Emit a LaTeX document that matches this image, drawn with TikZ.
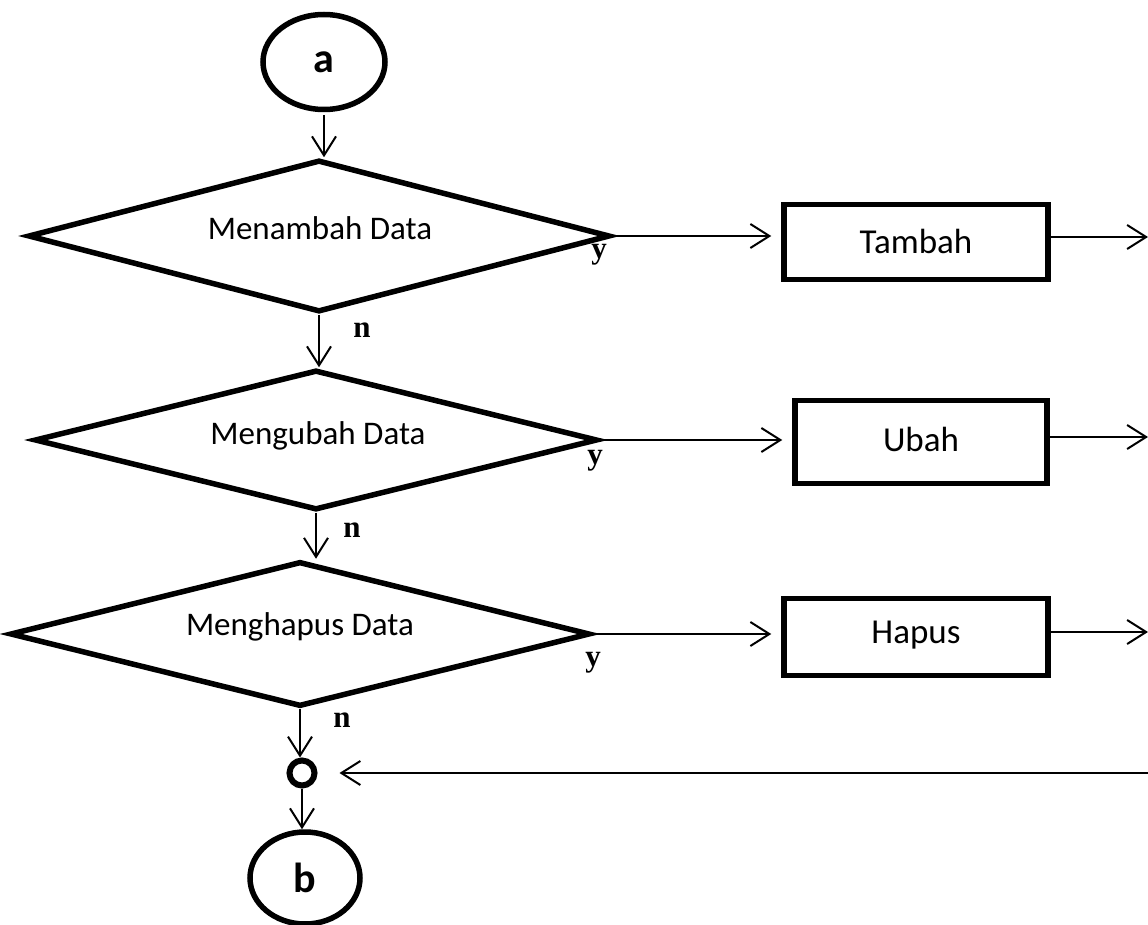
\documentclass[tikz,border=0pt]{standalone}
\usepackage{fontspec}
\setmainfont{Carlito}
\newfontfamily\ynfont{Liberation Serif}
\usetikzlibrary{shapes.geometric,arrows.meta}
\begin{document}
\begin{tikzpicture}[x=1pt,y=-1pt,
  shapeline/.style={draw=black,line width=5.5pt,line join=miter},
  decision/.style={shapeline,diamond,inner sep=0pt,minimum width=#1},
  process/.style={shapeline,rectangle,inner sep=0pt},
  terminal/.style={shapeline,ellipse,inner sep=0pt,font=\fontsize{42}{46}\selectfont\bfseries},
  txt/.style={font=\fontsize{33}{36}\selectfont},
  boxtxt/.style={font=\fontsize{35}{38}\selectfont},
  yn/.style={font=\fontsize{31}{33}\selectfont\ynfont\bfseries},
  flow/.style={line width=1.8pt,-{Straight Barb[length=19pt,width=24pt,line width=2pt]}}]
\useasboundingbox (0,0) rectangle (1148,925);

% start terminal
\node[terminal,minimum width=122pt,minimum height=95pt] (a) at (324,62) {a};

% decisions
\node[decision=582pt,minimum height=152pt] (d1) at (319,236) {};
\node[txt] (t1) at (320,228) {Menambah Data};
\node[decision=563pt,minimum height=140pt] (d2) at (316,440) {};
\node[txt] (t2) at (318,436) {Mengubah Data};
\node[decision=580pt,minimum height=145pt] (d3) at (300,634) {};
\node[txt] (t3) at (300,627) {Menghapus Data};

% processes
\node[process,minimum width=264pt,minimum height=75pt] (p1) at (916,242) {};
\node[boxtxt] (pt1) at (916,241) {Tambah};
\node[process,minimum width=252pt,minimum height=83pt] (p2) at (921,442) {};
\node[boxtxt] (pt2) at (921,439) {Ubah};
\node[process,minimum width=264pt,minimum height=77pt] (p3) at (916,637) {};
\node[boxtxt] (pt3) at (916,635) {Hapus};

% connector point and end terminal
\node[draw=black,line width=6pt,circle,inner sep=0pt,minimum size=25pt] (j) at (302,773) {};
\node[terminal,minimum width=110pt,minimum height=92pt] (b) at (305,878) {b};

% free ends at the right margin
\coordinate (o1) at (1148,237);
\coordinate (o2) at (1148,437);
\coordinate (o3) at (1148,632);
\coordinate (back) at (1148,773);

% yes / no labels
\node[yn] (y1) at (599,255) {y};
\node[yn] (y2) at (595,461) {y};
\node[yn] (y3) at (593,663) {y};
\node[yn] (n1) at (362,330) {n};
\node[yn] (n2) at (352,530) {n};
\node[yn] (n3) at (342,720) {n};

% vertical flow
\draw[flow] (a.south) ++(0,3) -- (a.south |- d1.north);
\draw[flow] (d1.south) -- (d1.south |- d2.north);
\draw[flow] (d2.south) -- (d2.south |- d3.north);
\draw[flow] (d3.south) -- (d3.south |- j.north);
\draw[flow] (j.south) -- (j.south |- b.north);

% yes branches
\draw[flow,shorten >=10pt] (d1.east) -- (d1.east -| p1.west);
\draw[flow,shorten >=10pt] (d2.east) -- (d2.east -| p2.west);
\draw[flow,shorten >=10pt] (d3.east) -- (d3.east -| p3.west);
\draw[flow] (p1.east |- o1) -- (o1);
\draw[flow] (p2.east |- o2) -- (o2);
\draw[flow] (p3.east |- o3) -- (o3);

% return line
\draw[flow,shorten >=22pt] (back) -- (j.east);
\end{tikzpicture}
\end{document}
